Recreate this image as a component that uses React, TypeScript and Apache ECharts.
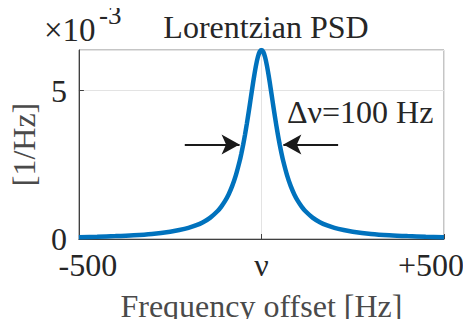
import React, { useEffect, useRef } from "react";
import * as echarts from "echarts";

// One-sided Lorentzian PSD samples (offset in Hz, PSD in units of 1e-3 /Hz)
const offsetsHz = [0, 5, 10, 15, 20, 25, 30, 35, 40, 45, 50, 55, 60, 70, 80, 90, 100, 110, 120, 140, 160, 180, 200, 225, 250, 300, 350, 400, 450, 500];
const psdMilli = [6.366, 6.303, 6.121, 5.841, 5.488, 5.093, 4.681, 4.273, 3.882, 3.517, 3.183, 2.882, 2.609, 2.151, 1.788, 1.501, 1.273, 1.092, 0.942, 0.720, 0.566, 0.456, 0.374, 0.302, 0.245, 0.172, 0.127, 0.098, 0.078, 0.063];

const xTicks = [-500, 0, 500];
const xTickLabels = ["-500", "ν", "+500"];
const yTicks = [0, 5];

// FWHM arrows: start/end offsets at half maximum
const halfMax = 3.183;
const leftArrow = [-210, -60];
const rightArrow = [210, 60];

const FONT = "Liberation Serif";
const TEXT = "#262626";

export default function App() {
  const ref = useRef<HTMLDivElement>(null);

  useEffect(() => {
    if (!ref.current) return;
    const chart = echarts.init(ref.current, undefined, { renderer: "svg" });

    const data: [number, number][] = [];
    for (let i = offsetsHz.length - 1; i > 0; i--) data.push([-offsetsHz[i], psdMilli[i]]);
    for (let i = 0; i < offsetsHz.length; i++) data.push([offsetsHz[i], psdMilli[i]]);
    const yMax = Math.max(...psdMilli);

    chart.setOption({
      animation: false,
      backgroundColor: "#ffffff",
      grid: {
        left: 77,
        right: 27,
        top: 50,
        bottom: 88,
        show: true,
        borderColor: "#8a8a8a",
        borderWidth: 1,
        backgroundColor: "transparent",
      },
      xAxis: {
        type: "value",
        min: xTicks[0],
        max: xTicks[xTicks.length - 1],
        interval: 500,
        name: "Frequency offset [Hz]",
        nameLocation: "middle",
        nameGap: 51,
        nameTextStyle: { fontFamily: FONT, fontSize: 32, color: "#4a4a4a" },
        axisLine: { show: true, onZero: false, lineStyle: { color: "#404040", width: 1 } },
        axisTick: { show: true, inside: true, length: 5, lineStyle: { color: "#404040" } },
        axisLabel: {
          fontFamily: FONT,
          fontSize: 32,
          color: TEXT,
          margin: 10,
          formatter: (v: number) => {
            const idx = xTicks.indexOf(v);
            const s = idx >= 0 ? xTickLabels[idx] : "";
            if (idx === 0) return `{l|${s}}`;
            if (idx === xTicks.length - 1) return `{r|${s}}`;
            return s;
          },
          rich: {
            l: { fontFamily: FONT, fontSize: 32, color: TEXT, padding: [0, 0, 0, 18] },
            r: { fontFamily: FONT, fontSize: 32, color: TEXT, padding: [0, 26, 0, 0] },
          },
        },
        splitLine: { show: true, lineStyle: { color: "#e3e3e3", width: 1 } },
      },
      yAxis: {
        type: "value",
        min: 0,
        max: yMax,
        interval: yTicks[1] - yTicks[0],
        name: "[1/Hz]",
        nameLocation: "middle",
        nameGap: 23,
        nameTextStyle: { fontFamily: FONT, fontSize: 32, color: "#4a4a4a" },
        axisLine: { show: true, onZero: false, lineStyle: { color: "#404040", width: 1 } },
        axisTick: { show: true, inside: true, length: 5, lineStyle: { color: "#404040" } },
        axisLabel: {
          fontFamily: FONT,
          fontSize: 32,
          color: TEXT,
          margin: 12,
          showMaxLabel: false,
          formatter: (v: number) => (yTicks.includes(v) ? String(v) : ""),
        },
        splitLine: { show: true, lineStyle: { color: "#e3e3e3", width: 1 } },
      },
      series: [
        {
          type: "line",
          data,
          smooth: 0.3,
          showSymbol: false,
          lineStyle: { color: "#0072BD", width: 4.5 },
          z: 3,
          markLine: {
            silent: true,
            symbol: ["none", "arrow"],
            symbolSize: [15, 18],
            label: { show: false },
            lineStyle: { color: "#1a1a1a", width: 2, type: "solid" },
            data: [
              [{ coord: [leftArrow[0], halfMax] }, { coord: [leftArrow[1], halfMax] }],
              [{ coord: [rightArrow[0], halfMax] }, { coord: [rightArrow[1], halfMax] }],
            ],
          },
        },
      ],
      graphic: [
        {
          type: "text",
          x: 266,
          y: 27,
          style: {
            text: "Lorentzian PSD",
            fontFamily: FONT,
            fontSize: 32,
            fill: TEXT,
            textAlign: "center",
            textVerticalAlign: "middle",
          },
        },
        {
          type: "text",
          x: 44,
          y: 30,
          style: {
            text: "×10",
            fontFamily: FONT,
            fontSize: 33,
            fill: TEXT,
            textAlign: "left",
            textVerticalAlign: "middle",
          },
        },
        {
          type: "text",
          x: 99,
          y: 15,
          style: {
            text: "-3",
            fontFamily: FONT,
            fontSize: 27,
            fill: TEXT,
            textAlign: "left",
            textVerticalAlign: "middle",
          },
        },
        {
          type: "text",
          x: 287,
          y: 112,
          style: {
            text: "Δν=100 Hz",
            fontFamily: FONT,
            fontSize: 32,
            fill: TEXT,
            textAlign: "left",
            textVerticalAlign: "middle",
          },
        },
      ],
    });

    return () => chart.dispose();
  }, []);

  return <div ref={ref} style={{ width: 471, height: 327, margin: -8 }} />;
}
